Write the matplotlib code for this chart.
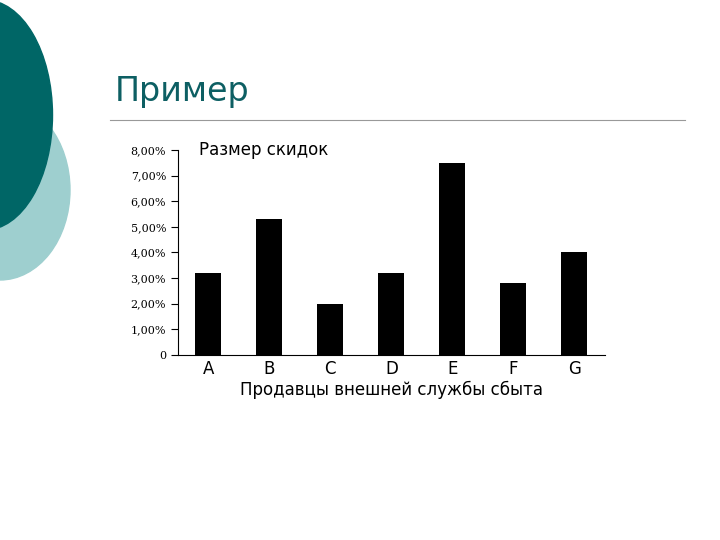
import matplotlib.pyplot as plt
from matplotlib.patches import Ellipse

sellers = ["A", "B", "C", "D", "E", "F", "G"]
discounts = [3.2, 5.3, 2.0, 3.2, 7.5, 2.8, 4.0]
ytick_vals = [0, 1, 2, 3, 4, 5, 6, 7, 8]
ytick_labels = ["0", "1,00%", "2,00%", "3,00%", "4,00%", "5,00%", "6,00%", "7,00%", "8,00%"]

fig = plt.figure(figsize=(7.2, 5.4), dpi=100)

# slide background: decorative circles, title, rule
bg = fig.add_axes([0, 0, 1, 1])
bg.set_xlim(0, 720)
bg.set_ylim(540, 0)
bg.axis("off")
bg.add_patch(Ellipse((0, 190), 140, 180, color="#9ecfcf"))
bg.add_patch(Ellipse((-15, 115), 135, 230, color="#006666"))
bg.text(115, 92, "Пример", fontsize=24, color="#0d5f63", va="center")
bg.plot([110, 685], [120, 120], color="#999999", lw=0.8)

ax = fig.add_axes([0.247, 0.343, 0.593, 0.379])
ax.bar(range(len(sellers)), discounts, width=0.43, color="black")
ax.set_ylim(0, 8)
ax.set_xlim(-0.5, 6.5)
ax.set_yticks(ytick_vals)
ax.set_yticklabels(ytick_labels, fontsize=8, family="DejaVu Serif")
ax.set_xticks(range(len(sellers)))
ax.set_xticklabels(sellers, fontsize=12)
ax.tick_params(axis="x", length=0, pad=4)
ax.tick_params(axis="y", length=5)
for s in ["top", "right"]:
    ax.spines[s].set_visible(False)
ax.set_xlabel("Продавцы внешней службы сбыта", fontsize=12, labelpad=2)
ax.text(0.05, 1.0, "Размер скидок", transform=ax.transAxes, fontsize=12, va="center")

fig.savefig("out.png", dpi=100)
